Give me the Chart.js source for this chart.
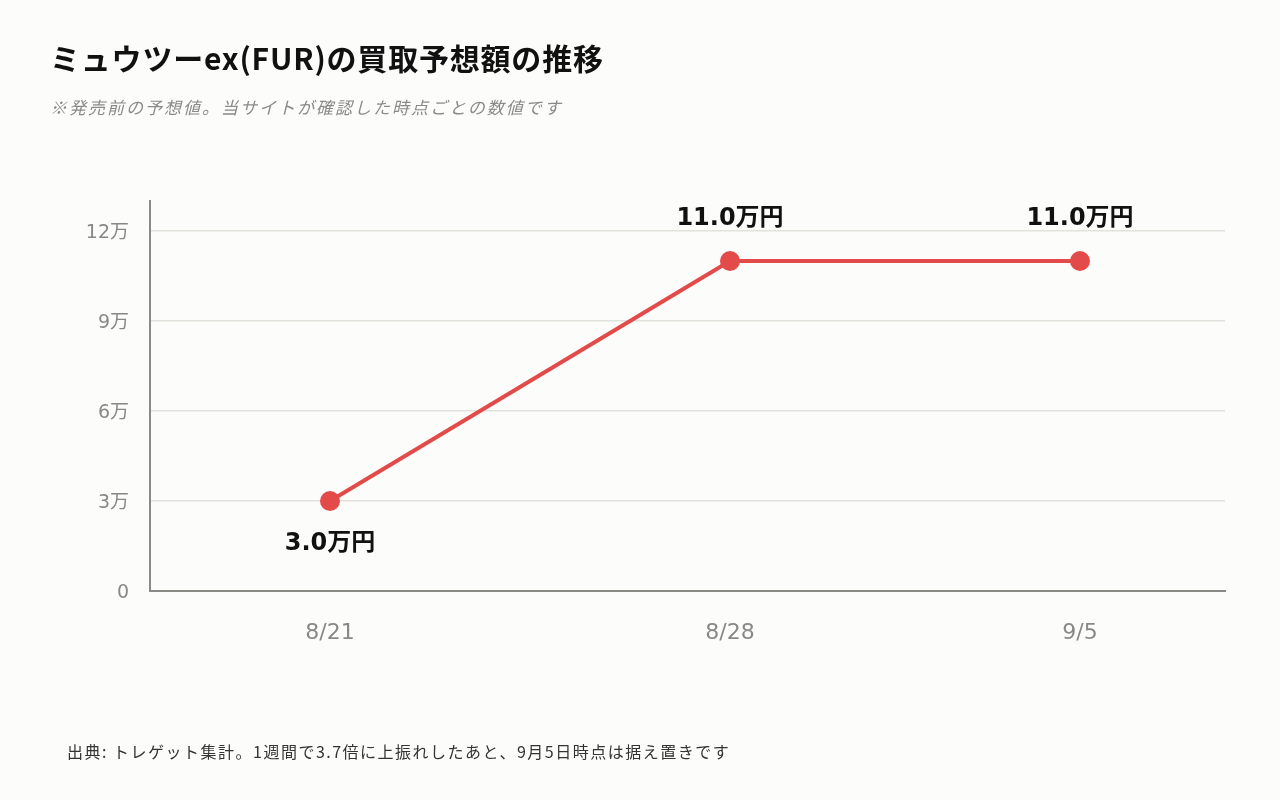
<!DOCTYPE html>
<html lang="ja">
<head>
<meta charset="utf-8">
<script src="https://cdn.jsdelivr.net/npm/chart.js@4"></script>
<style>
    html, body {
        margin: 0;
        padding: 0;
        background: #fcfcfa;
        font-family: "Noto Sans CJK JP", "Noto Sans", sans-serif;
    }
    #wrap {
        position: relative;
        width: 1280px;
        height: 800px;
    }
    #chartCanvas {
        position: absolute;
        left: 0;
        top: 0;
    }
    .title {
        position: absolute;
        left: 50px;
        top: 35px;
        font-size: 30px;
        font-weight: bold;
        color: #111;
        letter-spacing: 0.8px;
        white-space: nowrap;
    }
    .subtitle {
        position: absolute;
        left: 50px;
        top: 94px;
        font-size: 17px;
        font-style: italic;
        color: #8a8a8a;
        letter-spacing: 2px;
        white-space: nowrap;
    }
    .footer {
        position: absolute;
        left: 67px;
        top: 739px;
        font-size: 16px;
        color: #333;
        letter-spacing: 1.5px;
        white-space: nowrap;
    }
</style>
</head>
<body>
<div id="wrap">
    <canvas id="chartCanvas" width="1280" height="800"></canvas>
    <div class="title">ミュウツーex(FUR)の買取予想額の推移</div>
    <div class="subtitle">※発売前の予想値。当サイトが確認した時点ごとの数値です</div>
    <div class="footer">出典: トレゲット集計。1週間で3.7倍に上振れしたあと、9月5日時点は据え置きです</div>
</div>
<script>
// データ
const dateLabels = ['8/21', '8/28', '9/5'];
const xPositions = [0, 8, 15];          // 図から読み取った横位置
const prices = [3.0, 11.0, 11.0];        // 万円
const yTicks = [0, 3, 6, 9, 12];

// ラベルを点の上か下に置く
const labelSide = ['below', 'above', 'above'];

const tickFont = '"DejaVu Sans", "Noto Sans CJK JP", sans-serif';

// 数値ラベルを描くプラグイン
const valueLabels = {
    id: 'valueLabels',
    afterDatasetsDraw(chart) {
        const ctx = chart.ctx;
        const meta = chart.getDatasetMeta(0);
        ctx.save();
        ctx.font = 'bold 24px "DejaVu Sans", "Noto Sans CJK JP", sans-serif';
        ctx.fillStyle = '#111';
        ctx.textAlign = 'center';
        ctx.textBaseline = 'middle';
        meta.data.forEach((pt, i) => {
            const dy = labelSide[i] === 'below' ? 43 : -42;
            ctx.fillText(prices[i].toFixed(1) + '万円', pt.x, pt.y + dy);
        });
        ctx.restore();
    }
};

const ctx = document.getElementById('chartCanvas').getContext('2d');
new Chart(ctx, {
    type: 'line',
    data: {
        datasets: [{
            data: prices.map((v, i) => ({ x: xPositions[i], y: v })),
            borderColor: '#e24b4a',
            backgroundColor: '#e24b4a',
            borderWidth: 4,
            pointRadius: 10,
            pointHoverRadius: 10,
            pointBorderWidth: 0,
            tension: 0,
            fill: false
        }]
    },
    options: {
        responsive: false,
        animation: false,
        layout: {
            padding: { left: 50, right: 55, top: 201, bottom: 129 }
        },
        plugins: {
            legend: { display: false },
            tooltip: { enabled: false }
        },
        scales: {
            x: {
                type: 'linear',
                min: -3.6,
                max: 17.9,
                afterBuildTicks: axis => {
                    axis.ticks = xPositions.map(v => ({ value: v }));
                },
                afterFit: axis => { axis.height = 80; },
                grid: { display: false, drawTicks: false },
                border: { color: '#8a8a84', width: 2 },
                ticks: {
                    padding: 29,
                    color: '#888',
                    font: { size: 22, family: tickFont },
                    callback: (v) => dateLabels[xPositions.indexOf(v)]
                }
            },
            y: {
                min: 0,
                max: 13,
                afterBuildTicks: axis => {
                    axis.ticks = yTicks.map(v => ({ value: v }));
                },
                afterFit: axis => { axis.width = 100; },
                grid: {
                    color: '#e2e2dc',
                    lineWidth: 1.5,
                    drawTicks: false
                },
                border: { color: '#8a8a84', width: 2 },
                ticks: {
                    padding: 21,
                    labelOffset: 2,
                    color: '#888',
                    font: { size: 19, family: tickFont },
                    callback: v => v === 0 ? '0' : v + '万'
                }
            }
        }
    },
    plugins: [valueLabels]
});
</script>
</body>
</html>
